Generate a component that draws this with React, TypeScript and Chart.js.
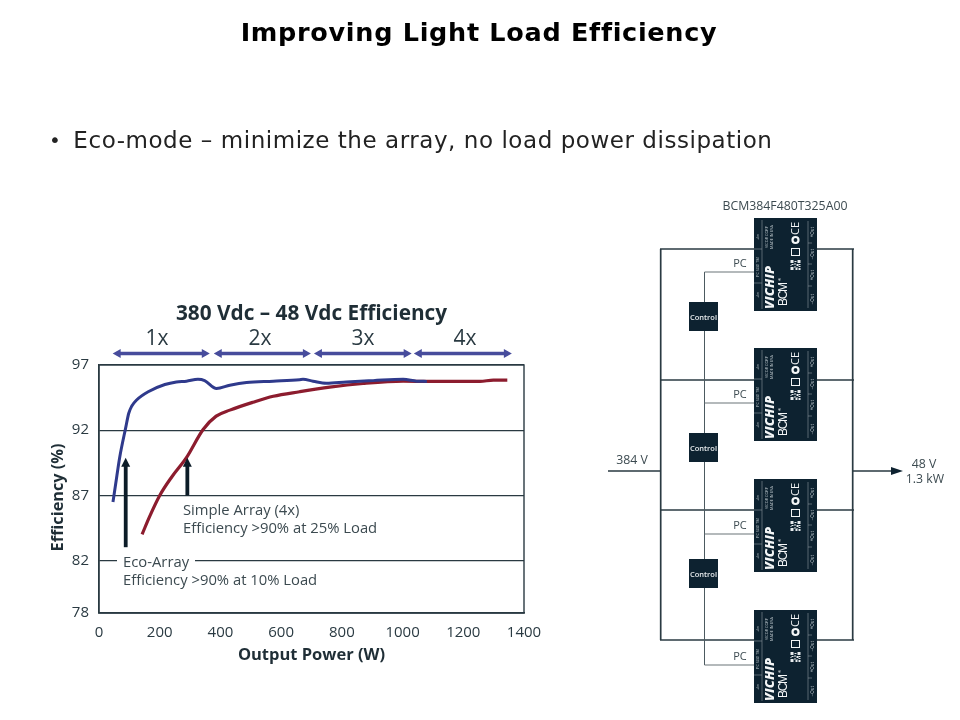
import React, { useEffect, useRef } from "react";
import { Chart, registerables } from "chart.js";

Chart.register(...registerables);

const blueWatts = [46, 55, 68, 88, 98, 108, 123, 162, 217, 255, 288, 326, 348, 387, 431, 486, 574, 661, 672, 705, 749, 815, 903, 1002, 1046, 1080];
const blueEff = [86.5, 87.9, 89.9, 92.2, 93.3, 93.85, 94.3, 94.95, 95.5, 95.7, 95.76, 95.9, 95.8, 95.2, 95.45, 95.66, 95.76, 95.87, 95.9, 95.76, 95.6, 95.7, 95.8, 95.9, 95.76, 95.74];
const redWatts = [142, 167, 200, 239, 288, 343, 386, 431, 508, 574, 661, 760, 870, 1002, 1090, 1255, 1299, 1345];
const redEff = [84.03, 85.4, 87.0, 88.4, 89.9, 92.06, 93.08, 93.54, 94.15, 94.6, 94.95, 95.3, 95.58, 95.76, 95.74, 95.74, 95.84, 95.84];
const yTicks = [78, 82, 87, 92, 97];
const xTicks = [0, 200, 400, 600, 800, 1000, 1200, 1400];
const rangeStarts = [45, 378, 708, 1037];
const rangeEnds = [365, 698, 1030, 1360];
const rangeLabels = ["1x", "2x", "3x", "4x"];
const arrowWatts = [88, 291];
const arrowTops = [89.9, 89.9];
const arrowBottoms = [83.04, 87];

const moduleTops = [218, 348, 479, 610];
const railYs = [249, 380, 510, 640];
const pcYs = [272, 403, 534, 665];
const controlTops = [302, 433, 559];

const SANS = '"Open Sans", "Noto Sans", sans-serif';
const INK = "#2a3a42";
const TEXT = "#3c4a50";

const overlays = {
  id: "overlays",
  beforeDatasetsDraw(chart: any) {
    const { ctx, chartArea: a } = chart;
    ctx.save();
    ctx.strokeStyle = INK;
    ctx.lineWidth = 1.4;
    ctx.strokeRect(a.left, a.top, a.right - a.left, a.bottom - a.top);
    ctx.restore();
  },
  afterDatasetsDraw(chart: any) {
    const { ctx, scales } = chart;
    const x = scales.x;
    const y = scales.y;
    ctx.save();
    // load-range arrows above the plot
    const ry = 353.5;
    ctx.strokeStyle = "#474c9c";
    ctx.fillStyle = "#474c9c";
    ctx.lineWidth = 3.4;
    rangeStarts.forEach((s, i) => {
      const x0 = x.getPixelForValue(s);
      const x1 = x.getPixelForValue(rangeEnds[i]);
      ctx.beginPath();
      ctx.moveTo(x0 + 4, ry);
      ctx.lineTo(x1 - 4, ry);
      ctx.stroke();
      ctx.beginPath();
      ctx.moveTo(x0, ry);
      ctx.lineTo(x0 + 8, ry - 4.4);
      ctx.lineTo(x0 + 8, ry + 4.4);
      ctx.closePath();
      ctx.moveTo(x1, ry);
      ctx.lineTo(x1 - 8, ry - 4.4);
      ctx.lineTo(x1 - 8, ry + 4.4);
      ctx.closePath();
      ctx.fill();
    });
    // callout arrows
    ctx.strokeStyle = "#0c1c28";
    ctx.fillStyle = "#0c1c28";
    ctx.lineWidth = 3.8;
    arrowWatts.forEach((w, i) => {
      const px = x.getPixelForValue(w);
      const top = y.getPixelForValue(arrowTops[i]);
      const bot = y.getPixelForValue(arrowBottoms[i]);
      ctx.beginPath();
      ctx.moveTo(px, top + 6);
      ctx.lineTo(px, bot);
      ctx.stroke();
      ctx.beginPath();
      ctx.moveTo(px, top);
      ctx.lineTo(px - 4.5, top + 9);
      ctx.lineTo(px + 4.5, top + 9);
      ctx.closePath();
      ctx.fill();
    });
    ctx.restore();
  },
};

const abs = (left: number, top: number, extra: React.CSSProperties = {}): React.CSSProperties => ({
  position: "absolute",
  left,
  top,
  whiteSpace: "nowrap",
  ...extra,
});

function Module({ top }: { top: number }) {
  const cx = 754;
  const rot = (x: number, y: number) => `rotate(-90 ${cx + x} ${top + y})`;
  const qr = [
    [0, 0, 3, 3], [7, 0, 3, 3], [0, 7, 3, 3], [4, 1, 2, 1], [4, 3, 1, 2], [6, 4, 2, 2], [1, 4, 2, 1], [8, 4, 2, 1],
    [4, 6, 1, 2], [6, 7, 1, 1], [8, 6, 2, 1], [5, 8, 2, 2], [8, 8, 2, 2], [0, 5, 1, 1],
  ];
  const small = "#b8c2c7";
  const Rot = ({ x, y, size, children }: any) => (
    <text x={cx + x} y={top + y} transform={rot(x, y)} textAnchor="middle" fontFamily={SANS} fontSize={size} fill={small}>
      {children}
    </text>
  );
  return (
    <g>
      <rect x={cx} y={top} width={63} height={93} fill="#0d2230" />
      <path d={`M${cx + 8} ${top + 2}V${top + 91}M${cx + 54} ${top + 3}V${top + 90}`} stroke="#8b989e" strokeWidth={0.6} />
      <path d={`M${cx} ${top + 31}H${cx + 8}M${cx} ${top + 65}H${cx + 8}M${cx + 54} ${top + 25}H${cx + 58}M${cx + 54} ${top + 46}H${cx + 58}M${cx + 54} ${top + 68}H${cx + 58}`} stroke="#8b989e" strokeWidth={0.6} />
      <Rot x={5} y={19} size={4}>+In</Rot>
      <Rot x={5} y={49} size={3.8}>PC SGD TM</Rot>
      <Rot x={5} y={77} size={4}>+In</Rot>
      <Rot x={14} y={19} size={3.8}>VICOR CORP</Rot>
      <Rot x={19} y={19} size={3.8}>MADE IN USA</Rot>
      <text x={cx + 20} y={top + 91} transform={rot(20, 91)} fontFamily={SANS} fontSize={13} fontWeight={800} fontStyle="italic" fill="#f4f6f7" textLength={43}>VICHIP</text>
      <text x={cx + 33} y={top + 88} transform={rot(33, 88)} fontFamily="'Liberation Sans', sans-serif" fontSize={12} fill="#f4f6f7" textLength={24}>BCM</text>
      <text x={cx + 27} y={top + 63} transform={rot(27, 63)} fontFamily="'Liberation Sans', sans-serif" fontSize={4} fill="#f4f6f7">®</text>
      {["+Out", "−Out", "+Out", "−Out"].map((t, i) => (
        <Rot key={i} x={60} y={[14, 36, 57, 81][i]} size={4.5}>{t}</Rot>
      ))}
      <text x={cx + 45} y={top + 17} transform={rot(45, 17)} fontFamily={SANS} fontSize={11} fill="#f4f6f7">CE</text>
      <circle cx={cx + 41.5} cy={top + 22} r={3} fill="none" stroke="#f4f6f7" strokeWidth={2.2} />
      <rect x={cx + 37.5} y={top + 30.5} width={8} height={7} fill="none" stroke="#f4f6f7" strokeWidth={1} />
      <g transform={`translate(${cx + 36.5} ${top + 42})`}>
        {qr.map(([a, b, c, d], i) => (
          <rect key={i} x={a} y={b} width={c} height={d} fill="#e8ecee" />
        ))}
      </g>
    </g>
  );
}

function Diagram() {
  const dark = "#2a3a42";
  return (
    <svg width={960} height={720} style={{ position: "absolute", left: 0, top: 0 }}>
      <path d={`M660.7 ${railYs[0]}V${railYs[3]}M852.7 ${railYs[0]}V${railYs[3]}`} stroke={dark} strokeWidth={1.7} fill="none" />
      {railYs.map((y) => (
        <path key={y} d={`M660 ${y}H854`} stroke={dark} strokeWidth={1.7} fill="none" />
      ))}
      <path d={`M704.5 ${pcYs[0]}V${pcYs[3]}`} stroke="#4c5a60" strokeWidth={1} fill="none" />
      {pcYs.map((y) => (
        <path key={y} d={`M704.5 ${y}H754`} stroke="#6a7478" strokeWidth={1.1} fill="none" />
      ))}
      {pcYs.map((y) => (
        <text key={y} x={740} y={y - 5} textAnchor="middle" fontFamily={SANS} fontSize={11} fill={TEXT}>PC</text>
      ))}
      {moduleTops.map((t) => (
        <Module key={t} top={t} />
      ))}
      {controlTops.map((t) => (
        <g key={t}>
          <rect x={689} y={t} width={29} height={29} fill="#0d2230" />
          <text x={703.5} y={t + 17.5} textAnchor="middle" fontFamily={SANS} fontSize={7.5} fontWeight={600} fill="#e8ecee">Control</text>
        </g>
      ))}
      <path d="M608 471H660.7M852.7 471H893" stroke={dark} strokeWidth={1.7} fill="none" />
      <path d="M903 471L891 467V475Z" fill="#0d2230" />
      <text x={785} y={210} textAnchor="middle" fontFamily={SANS} fontSize={12.3} fill={TEXT}>BCM384F480T325A00</text>
      <text x={632} y={464} textAnchor="middle" fontFamily={SANS} fontSize={12.3} fill={TEXT}>384 V</text>
      <text x={924} y={468} textAnchor="middle" fontFamily={SANS} fontSize={12.3} fill={TEXT}>48 V</text>
      <text x={925} y={483} textAnchor="middle" fontFamily={SANS} fontSize={12.3} fill={TEXT}>1.3 kW</text>
    </svg>
  );
}

export default function App() {
  const ref = useRef<HTMLCanvasElement>(null);
  useEffect(() => {
    const toPts = (xs: number[], ys: number[]) => xs.map((x, i) => ({ x, y: ys[i] }));
    const tickFont = { family: SANS, size: 15 };
    const chart = new Chart(ref.current as HTMLCanvasElement, {
      type: "scatter",
      data: {
        datasets: [
          {
            label: "Eco-Array",
            data: toPts(blueWatts, blueEff),
            showLine: true,
            borderColor: "#2f3a8c",
            borderWidth: 3,
            pointRadius: 0,
            cubicInterpolationMode: "monotone",
          },
          {
            label: "Simple Array (4x)",
            data: toPts(redWatts, redEff),
            showLine: true,
            borderColor: "#8c1c2e",
            borderWidth: 3.2,
            pointRadius: 0,
            cubicInterpolationMode: "monotone",
          },
        ],
      },
      options: {
        animation: false,
        responsive: false,
        devicePixelRatio: 1,
        layout: { padding: { left: 49, right: 436, top: 302, bottom: 55 } },
        plugins: {
          legend: { display: false },
          tooltip: { enabled: false },
          title: {
            display: true,
            text: "380 Vdc – 48 Vdc Efficiency",
            fullSize: false,
            color: "#1f2e36",
            font: { family: SANS, size: 20.8, weight: "bold" },
            padding: { top: 0, bottom: 38 },
          },
        },
        scales: {
          x: {
            type: "linear",
            min: 0,
            max: 1400,
            afterBuildTicks: (s: any) => {
              s.ticks = xTicks.map((value) => ({ value }));
            },
            afterFit: (s: any) => {
              s.height = 52;
            },
            grid: { display: false },
            border: { color: INK, width: 1.4 },
            ticks: { color: INK, font: tickFont, padding: 3, maxRotation: 0, autoSkip: false, callback: (v: any) => String(v) },
            title: {
              display: true,
              text: "Output Power (W)",
              color: "#1f2e36",
              font: { family: SANS, size: 16.5, weight: "bold" },
              padding: { top: 4, bottom: 0 },
            },
          },
          y: {
            type: "linear",
            min: 78,
            max: 97,
            afterBuildTicks: (s: any) => {
              s.ticks = yTicks.map((value) => ({ value }));
            },
            afterFit: (s: any) => {
              s.width = 50;
            },
            grid: { color: INK, lineWidth: 1.3, drawTicks: false },
            border: { color: INK, width: 1.4 },
            ticks: { color: INK, font: tickFont, padding: 10, autoSkip: false },
            title: {
              display: true,
              text: "Efficiency (%)\u00A0\u00A0\u00A0\u00A0",
              color: "#1f2e36",
              font: { family: SANS, size: 16.3, weight: "bold" },
              padding: { top: 0, bottom: 0 },
            },
          },
        },
      },
      plugins: [overlays],
    } as any);
    return () => chart.destroy();
  }, []);

  const noteFont: React.CSSProperties = { fontFamily: SANS, fontSize: 14.8, lineHeight: "18px", color: TEXT };
  return (
    <div style={{ position: "absolute", left: 0, top: 0, width: 960, height: 720, background: "#fff", overflow: "hidden" }}>
      <canvas ref={ref} width={960} height={720} style={{ position: "absolute", left: 0, top: 0, display: "block" }} />
      <div style={abs(0, 16, { width: 958, textAlign: "center", fontFamily: '"DejaVu Sans", sans-serif', fontWeight: 700, fontSize: 25.5, letterSpacing: 0.7, lineHeight: "32px", color: "#000", fontVariantLigatures: "none" })}>
        Improving Light Load Efficiency
      </div>
      <div style={abs(49, 125, { fontFamily: '"DejaVu Sans", sans-serif', fontSize: 23, letterSpacing: 0.55, lineHeight: "30px", color: "#222", fontVariantLigatures: "none" })}>
        <span style={{ fontSize: 20, position: "relative", top: -1, marginRight: 12 }}>•</span>
        Eco-mode – minimize the array, no load power dissipation
      </div>
      {rangeLabels.map((t, i) => (
        <div key={t} style={abs([157, 260, 363, 465][i] - 30, 323, { width: 60, textAlign: "center", fontFamily: SANS, fontSize: 21, lineHeight: "28px", color: "#2a3a42" })}>
          {t}
        </div>
      ))}
      <div style={abs(183, 500, noteFont)}>
        Simple Array (4x)
        <br />
        Efficiency &gt;90% at 25% Load
      </div>
      <div style={abs(123, 552, noteFont)}>
        <span style={{ background: "#fff", padding: "0 6px 0 0", boxShadow: "-6px 0 0 #fff" }}>Eco-Array</span>
        <br />
        Efficiency &gt;90% at 10% Load
      </div>
      <Diagram />
    </div>
  );
}
